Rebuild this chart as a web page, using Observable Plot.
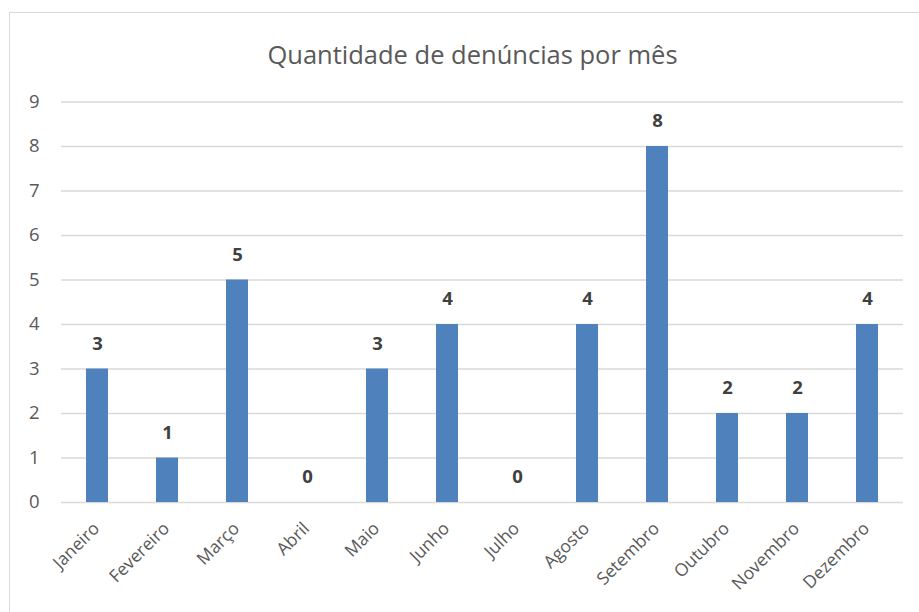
<!DOCTYPE html>
<html><head><meta charset="utf-8">
<script src="https://cdn.jsdelivr.net/npm/d3@7"></script>
<script src="https://cdn.jsdelivr.net/npm/@observablehq/plot@0.6"></script>
<style>
body{margin:0;background:#fff;overflow:hidden;}
#wrap{position:relative;width:919px;height:612px;overflow:hidden;}
#border{position:absolute;left:9px;top:12px;width:960px;height:660px;border:1px solid #d9d9d9;box-sizing:border-box;}
#chart{position:absolute;left:0;top:0;}
</style>
</head><body>
<div id="wrap"><div id="border"></div><div id="chart"></div></div>
<script>
const title = "Quantidade de denúncias por mês";
const months = ["Janeiro","Fevereiro","Março","Abril","Maio","Junho","Julho","Agosto","Setembro","Outubro","Novembro","Dezembro"];
const counts = [3,1,5,0,3,4,0,4,8,2,2,4];
const yTicks = [0,1,2,3,4,5,6,7,8,9];

const data = months.map((m,i)=>({month:m, value:counts[i]}));
const font = "'Open Sans', sans-serif";

const chart = Plot.plot({
  width: 919, height: 612,
  marginLeft: 61, marginRight: 16, marginTop: 101.5, marginBottom: 110,
  style: {fontFamily: font, background: "transparent"},
  x: {domain: months, padding: 0, axis: null},
  y: {domain: [0,9], axis: null},
  marks: [
    Plot.ruleY(yTicks, {stroke: "#d9d9d9", strokeWidth: 1.3}),
    Plot.barY(data, {x: "month", y: "value", fill: "#4f81bd", insetLeft: 24, insetRight: 24}),
    Plot.text(data, {x: "month", y: "value", text: d => String(d.value), dy: -25, lineAnchor: "middle", fontSize: 18.5, fontWeight: "bold", fill: "#404040"}),
    Plot.text(data, {x: "month", frameAnchor: "bottom", text: "month", rotate: -45, textAnchor: "end", lineAnchor: "bottom", dx: 3, dy: 27, fontSize: 17.5, fill: "#595959"}),
    Plot.text(yTicks, {y: d => d, frameAnchor: "left", text: d => String(d), textAnchor: "end", lineAnchor: "middle", dx: -22, fontSize: 18.5, fill: "#595959"}),
    Plot.text([title], {frameAnchor: "top", text: d => d, dx: -10, dy: -46.5, lineAnchor: "middle", fontSize: 25.5, fill: "#595959"})
  ]
});
document.getElementById("chart").appendChild(chart);
</script>
</body></html>
